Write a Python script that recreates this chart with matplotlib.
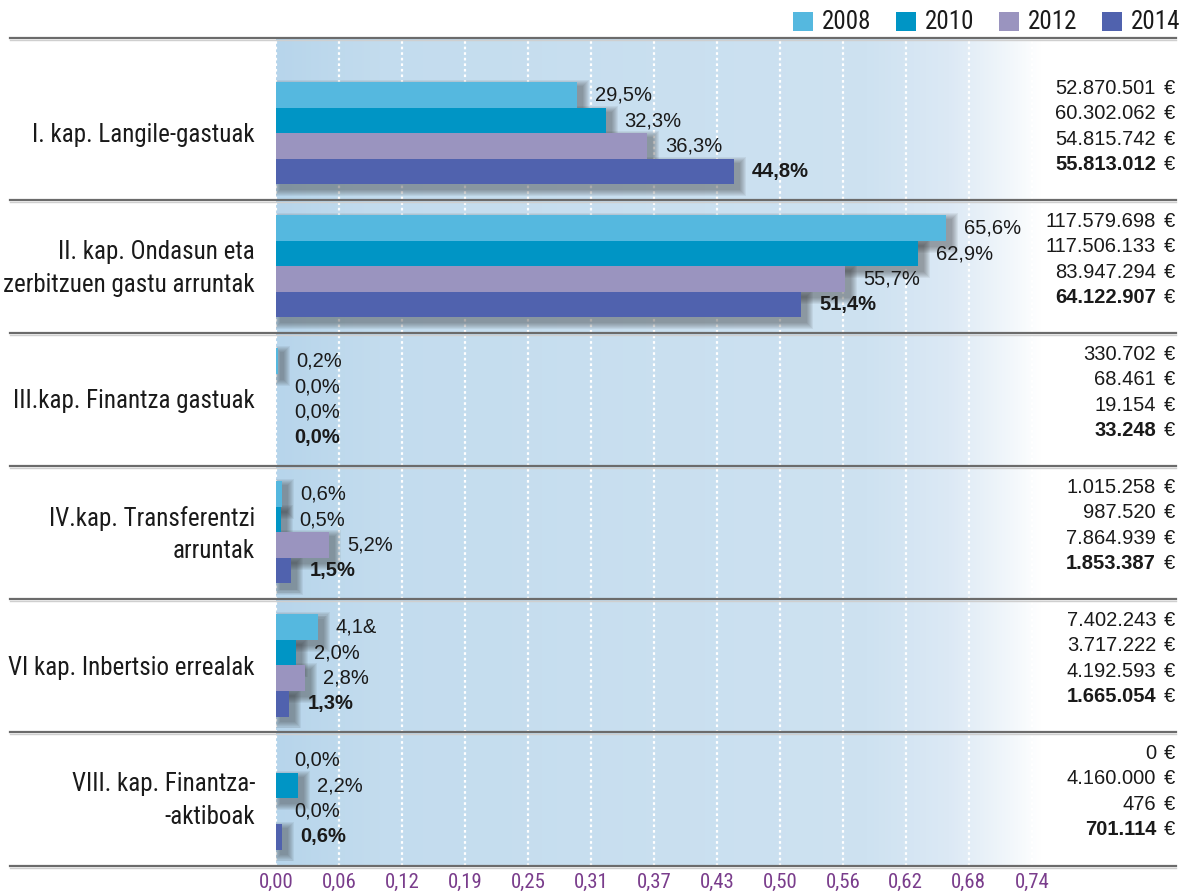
import matplotlib
matplotlib.use("Agg")
import matplotlib.pyplot as plt
import matplotlib.transforms as mtransforms
from matplotlib.patches import Rectangle
from matplotlib import font_manager
import numpy as np

# --- data -------------------------------------------------------------
years = ["2008", "2010", "2012", "2014"]
colors = ["#55b8df", "#0095c5", "#9a94bf", "#5062ae"]

categories = [
    "I. kap. Langile-gastuak",
    "II. kap. Ondasun eta\nzerbitzuen gastu arruntak",
    "III.kap. Finantza gastuak",
    "IV.kap. Transferentzi\narruntak",
    "VI kap. Inbertsio errealak",
    "VIII. kap. Finantza-\n-aktiboak",
]

# share of budget in %, one row per chapter, one column per year
pct = [
    [29.5, 32.3, 36.3, 44.8],
    [65.6, 62.9, 55.7, 51.4],
    [0.2, 0.0, 0.0, 0.0],
    [0.6, 0.5, 5.2, 1.5],
    [4.1, 2.0, 2.8, 1.3],
    [0.0, 2.2, 0.0, 0.6],
]
pct_labels = [
    ["29,5%", "32,3%", "36,3%", "44,8%"],
    ["65,6%", "62,9%", "55,7%", "51,4%"],
    ["0,2%", "0,0%", "0,0%", "0,0%"],
    ["0,6%", "0,5%", "5,2%", "1,5%"],
    ["4,1&", "2,0%", "2,8%", "1,3%"],
    ["0,0%", "2,2%", "0,0%", "0,6%"],
]
euros = [
    ["52.870.501", "60.302.062", "54.815.742", "55.813.012"],
    ["117.579.698", "117.506.133", "83.947.294", "64.122.907"],
    ["330.702", "68.461", "19.154", "33.248"],
    ["1.015.258", "987.520", "7.864.939", "1.853.387"],
    ["7.402.243", "3.717.222", "4.192.593", "1.665.054"],
    ["0", "4.160.000", "476", "701.114"],
]
tick_labels = ["0,00", "0,06", "0,12", "0,19", "0,25", "0,31", "0,37",
               "0,43", "0,50", "0,56", "0,62", "0,68", "0,74"]

# --- fonts ------------------------------------------------------------
names = {f.name for f in font_manager.fontManager.ttflist}
NARROW, cond = "Liberation Sans", False
for cand in ["Roboto Condensed", "Liberation Sans Narrow", "Open Sans Condensed",
             "Noto Sans Condensed", "DejaVu Sans Condensed"]:
    if cand in names:
        NARROW, cond = cand, True
        break
REG = "Liberation Sans"
plt.rcParams["font.family"] = [REG, "DejaVu Sans"]
cat_fs = 18 if cond else 15.5
leg_fs = 18 if cond else 15.5
tick_fs = 15 if cond else 12
val_fs = 14.5

W, H = 1186, 896
fig = plt.figure(figsize=(W / 100, H / 100), dpi=100)
ax_left, ax_right = 276, 1042
ax_top, ax_bot = 38, 866
ax = fig.add_axes([ax_left / W, 1 - ax_bot / H, (ax_right - ax_left) / W, (ax_bot - ax_top) / H])

XMAX = 0.75
step_px = 133.0
y_top = (ax_top - 133.5) / step_px
y_bot = y_top + (ax_bot - ax_top) / step_px
ax.set_xlim(0, XMAX)
ax.set_ylim(y_bot, y_top)
px_x = XMAX / (ax_right - ax_left)   # data units per pixel
px_y = 1 / step_px

# background gradient
stops = [(0.00, "#b7d5eb"), (0.10, "#c3dcee"), (0.58, "#cee2f1"),
         (0.66, "#dce9f5"), (0.72, "#f2f7fb"), (0.75, "#ffffff")]
xs = np.linspace(0, XMAX, 400)
sx = [s[0] for s in stops]
rgb = np.array([matplotlib.colors.to_rgb(s[1]) for s in stops])
img = np.stack([np.interp(xs, sx, rgb[:, c]) for c in range(3)], axis=-1)[None, :, :]
ax.imshow(img, extent=[0, XMAX, y_bot, y_top], aspect="auto", zorder=0, interpolation="bilinear")

# dotted white grid
ticks = np.linspace(0, 0.74, 13)
for t in ticks:
    ax.axvline(t, color="white", lw=1.6, linestyle=(0, (1.2, 1.3)), zorder=1)

bar_h = 25.5 * px_y
offsets = (np.arange(4) - 1.5) * bar_h

# shadows then bars
for i, row in enumerate(pct):
    for j, v in enumerate(row):
        w = v / 100
        y = i + offsets[j]
        if w > 0.001:
            for k in range(7):
                e = 7 - k
                ax.add_patch(Rectangle((5 * px_x - e * px_x, y - bar_h / 2 + 5 * px_y - e * px_y),
                                       w + 2 * e * px_x, bar_h + 2 * e * px_y,
                                       color="#333333", alpha=0.07, lw=0, zorder=2))
        ax.barh(y, w, height=bar_h, color=colors[j], zorder=3, lw=0)
        ax.annotate(pct_labels[i][j], (w, y), xytext=(13, 0), textcoords="offset points",
                    va="center", ha="left", fontsize=val_fs, color="#1a1a1a",
                    fontweight="bold" if j == 3 else "normal", zorder=5)

# right value column
tr = mtransforms.blended_transform_factory(ax.transAxes, ax.transData)
x_num = (1156 - ax_left) / (ax_right - ax_left)
x_eur = (1175 - ax_left) / (ax_right - ax_left)
for i, row in enumerate(euros):
    for j, s in enumerate(row):
        y = i + offsets[j] - 7 * px_y
        ax.text(x_num, y, s, transform=tr, ha="right", va="center", fontsize=val_fs,
                color="#1a1a1a", fontweight="bold" if j == 3 else "normal", clip_on=False)
        ax.text(x_eur, y, "€", transform=tr, ha="right", va="center", fontsize=val_fs,
                color="#1a1a1a", clip_on=False)

# category labels
x_cat = (255 - ax_left) / (ax_right - ax_left)
for i, c in enumerate(categories):
    ax.text(x_cat, i + 2 * px_y, c, transform=tr, ha="right", va="center", fontsize=cat_fs,
            family=NARROW, color="#1a1a1a", linespacing=1.45, clip_on=False)

# separator lines
x0 = (10 - ax_left) / (ax_right - ax_left)
x1 = (1176 - ax_left) / (ax_right - ax_left)
seps = [y_top] + [i + 0.5 for i in range(len(categories) - 1)] + [y_bot]
for s in seps:
    ax.plot([x0, x1], [s + 2 * px_y, s + 2 * px_y], transform=tr, color="#cfcfcf", lw=1.0,
            clip_on=False, zorder=6)
    ax.plot([x0, x1], [s, s], transform=tr, color="#6b6b6b", lw=1.6, clip_on=False, zorder=7)

# axis styling
for sp in ax.spines.values():
    sp.set_visible(False)
ax.set_yticks([])
ax.set_xticks(ticks)
ax.set_xticklabels(tick_labels, family=NARROW, fontsize=tick_fs, color="#7a3d8c")
ax.tick_params(axis="x", length=0, pad=5)

# legend
lx, ly = 793, 12
for j, yr in enumerate(years):
    x = lx + j * 103
    fig.patches.append(Rectangle((x / W, 1 - (ly + 19) / H), 20 / W, 19 / H,
                                 color=colors[j], transform=fig.transFigure, lw=0))
    fig.text((x + 29) / W, 1 - (ly + 10) / H, yr, ha="left", va="center",
             family=NARROW, fontsize=leg_fs, color="#1a1a1a")

fig.savefig("out.png", dpi=100)
